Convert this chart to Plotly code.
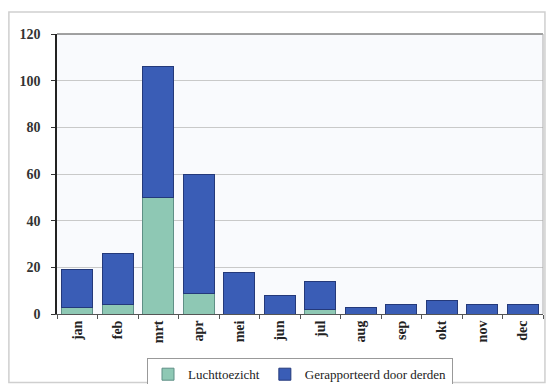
import plotly.graph_objects as go

# Maandelijkse meldingen, gestapeld per bron
maanden = ["jan", "feb", "mrt", "apr", "mei", "jun", "jul", "aug", "sep", "okt", "nov", "dec"]
luchttoezicht = [3, 4, 50, 9, 0, 0, 2, 0, 0, 0, 0, 0]
derden = [16, 22, 56, 51, 18, 8, 12, 3, 4, 6, 4, 4]
y_ticks = [0, 20, 40, 60, 80, 100, 120]

groen = "#8ec8b4"
blauw = "#3a5db6"
serif = "Liberation Serif"

fig = go.Figure()
fig.add_trace(go.Bar(
    x=maanden, y=luchttoezicht, name="Luchttoezicht",
    marker=dict(color=groen, line=dict(color="#5f8f86", width=1)),
))
fig.add_trace(go.Bar(
    x=maanden, y=derden, name="Gerapporteerd door derden",
    marker=dict(color=blauw, line=dict(color="#24397a", width=1)),
))

fig.update_layout(
    width=546, height=384,
    barmode="stack", bargap=0.23,
    margin=dict(l=57, r=3, t=34, b=70, autoexpand=False),
    paper_bgcolor="white", plot_bgcolor="#f9fafd",
    font=dict(family=serif, color="#222222"),
    legend=dict(
        orientation="h", traceorder="normal",
        x=0.5, xanchor="center", y=-0.158, yanchor="top",
        font=dict(family=serif, size=13, color="#222222"),
        bordercolor="#999999", borderwidth=1, bgcolor="white",
        itemwidth=30,
    ),
    showlegend=True,
)

fig.update_xaxes(
    type="category", tickangle=-90, tickson="boundaries",
    ticks="outside", ticklen=4, tickcolor="#555555",
    showline=True, linecolor="#555555", linewidth=1, mirror=False,
    tickfont=dict(family=serif, size=14, color="#222222", weight="bold"),
    showgrid=False, automargin=False,
)
fig.update_yaxes(
    range=[0, 120], tickvals=y_ticks, ticktext=[str(v) for v in y_ticks],
    ticks="outside", ticklen=4, tickcolor="#333333",
    showline=True, linecolor="#222222", linewidth=1.5, mirror=False,
    showgrid=True, gridcolor="#c9c9c9", gridwidth=1,
    tickfont=dict(family=serif, size=14, color="#333333", weight="bold"),
    ticklabelstandoff=8, zeroline=False, automargin=False,
)

# Lijnen langs boven- en rechterrand van het plotvlak
fig.add_shape(type="line", xref="paper", yref="paper", x0=0, x1=1, y0=1, y1=1,
              line=dict(color="#444444", width=1))
fig.add_shape(type="line", xref="paper", yref="paper", x0=1, x1=1, y0=0, y1=1,
              line=dict(color="#aaaaaa", width=1))

# Kader rond het hele diagram
fig.add_shape(type="rect", xref="paper", yref="paper",
              x0=-0.099, x1=1.004, y0=-0.245, y1=1.079,
              line=dict(color="#cfcfcf", width=1.5), layer="below")

fig.write_html("out.html")
